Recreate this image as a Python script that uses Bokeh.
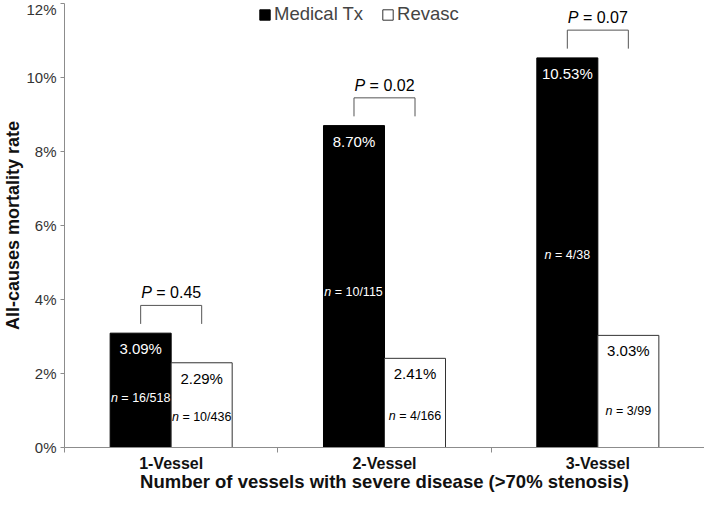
from bokeh.plotting import figure
from bokeh.models import Range1d, FixedTicker, Legend, LegendItem
from bokeh.core.properties import value
from bokeh.embed import file_html
from bokeh.resources import INLINE

# ---------------- data ----------------
categories = ["1-Vessel", "2-Vessel", "3-Vessel"]
medical_rate = [3.09, 8.70, 10.53]
revasc_rate = [2.29, 2.41, 3.03]
medical_n = ["16/518", "10/115", "4/38"]
revasc_n = ["10/436", "4/166", "3/99"]
p_values = ["0.45", "0.02", "0.07"]
y_ticks = [0, 2, 4, 6, 8, 10, 12]
y_tick_labels = ["0%", "2%", "4%", "6%", "8%", "10%", "12%"]

# placement (heights, in axis units) of the n = ... annotations
medical_n_y = [1.33, 4.19, 5.2]
revasc_n_y = [0.83, 0.85, 0.99]

# ---------------- style ----------------
FONT = value("Liberation Sans")
BAR_W = 0.286
AXIS_GREY = "#8c8c8c"

ARIAL = {" ": 278, "=": 584, ".": 278, "/": 278, "%": 889, "P": 667, "n": 556}
for d in "0123456789":
    ARIAL[d] = 556


def text_w(s, size):
    return sum(ARIAL.get(c, 556) for c in s) / 1000.0 * size


p = figure(width=704, height=494, x_range=Range1d(0, 3), y_range=Range1d(0, 12),
           output_backend="svg", toolbar_location=None,
           min_border_top=3, min_border_right=0, min_border_left=0, min_border_bottom=0)
p.outline_line_color = None
p.grid.visible = False
p.background_fill_color = "white"

centers = [i + 0.5 for i in range(len(categories))]
med_x = [c - BAR_W / 2 for c in centers]
rev_x = [c + BAR_W / 2 for c in centers]

r_med = p.vbar(x=med_x, top=medical_rate, width=BAR_W, bottom=0,
               fill_color="black", line_color="black", line_width=1)
r_rev = p.vbar(x=rev_x, top=revasc_rate, width=BAR_W, bottom=0,
               fill_color="white", line_color="#333333", line_width=1)

# value labels
p.text(x=med_x, y=medical_rate, text=["%.2f%%" % v for v in medical_rate],
       text_font=FONT, text_font_size="15px", text_align="center",
       text_baseline="top", y_offset=7, text_color="white")
p.text(x=rev_x, y=revasc_rate, text=["%.2f%%" % v for v in revasc_rate],
       text_font=FONT, text_font_size="15px", text_align="center",
       text_baseline="top", y_offset=7, text_color="black")


def split_label(xs, ys, lead, rests, size, color, baseline="middle", y_off=0):
    """Italic lead letter followed by '= value', centred on x."""
    offs, offs2 = [], []
    for r in rests:
        W = text_w(lead + " " + r, size)
        o = -W / 2 + text_w(lead, size)
        offs.append(o)
        offs2.append(o + text_w(" ", size))
    p.text(x=xs, y=ys, text=[lead] * len(xs), x_offset=offs, y_offset=y_off,
           text_font=FONT, text_font_size="%spx" % size, text_font_style="italic",
           text_align="right", text_baseline=baseline, text_color=color)
    p.text(x=xs, y=ys, text=rests, x_offset=offs2, y_offset=y_off,
           text_font=FONT, text_font_size="%spx" % size,
           text_align="left", text_baseline=baseline, text_color=color)


split_label(med_x, medical_n_y, "n", ["= " + s for s in medical_n], 12.5, "white")
split_label(rev_x, revasc_n_y, "n", ["= " + s for s in revasc_n], 12.5, "black")

# significance brackets
tops = [max(a, b) for a, b in zip(medical_rate, revasc_rate)]
xs_b = [[m, m, r, r] for m, r in zip(med_x, rev_x)]
ys_b = [[t + 0.25, t + 0.75, t + 0.75, t + 0.25] for t in tops]
p.multi_line(xs=xs_b, ys=ys_b, line_color="#555555", line_width=1)

p_ys = [t + 0.75 for t in tops]
split_label(centers, p_ys, "P", ["= " + v for v in p_values], 16, "black",
            baseline="bottom", y_off=-4)

# x axis
xa = p.xaxis[0]
xa.ticker = FixedTicker(ticks=centers, minor_ticks=list(range(len(categories) + 1)))
xa.major_label_overrides = {c: lab for c, lab in zip(centers, categories)}
xa.major_tick_line_color = None
xa.major_tick_out = 0
xa.major_tick_in = 0
xa.minor_tick_out = 5
xa.minor_tick_in = 0
xa.minor_tick_line_color = AXIS_GREY
xa.axis_line_color = AXIS_GREY
xa.major_label_text_font = "Liberation Sans"
xa.major_label_text_font_size = "16px"
xa.major_label_text_font_style = "bold"
xa.major_label_text_color = "#111111"
xa.major_label_standoff = 2
xa.axis_label = "Number of vessels with severe disease (>70% stenosis)"
xa.axis_label_text_font = "Liberation Sans"
xa.axis_label_text_font_size = "18.5px"
xa.axis_label_text_font_style = "bold"
xa.axis_label_text_color = "#111111"
xa.axis_label_standoff = -4

# y axis
ya = p.yaxis[0]
ya.ticker = FixedTicker(ticks=y_ticks, minor_ticks=[])
ya.major_label_overrides = {t: lab for t, lab in zip(y_ticks, y_tick_labels)}
ya.major_tick_out = 4
ya.major_tick_in = 0
ya.major_tick_line_color = AXIS_GREY
ya.minor_tick_line_color = None
ya.axis_line_color = AXIS_GREY
ya.major_label_text_font = "Liberation Sans"
ya.major_label_text_font_size = "15px"
ya.major_label_text_color = "#333333"
ya.major_label_standoff = 4
ya.axis_label = "All-causes mortality rate"
ya.axis_label_text_font = "Liberation Sans"
ya.axis_label_text_font_size = "18px"
ya.axis_label_text_font_style = "bold"
ya.axis_label_text_color = "#111111"
ya.axis_label_standoff = 0

legend = Legend(items=[LegendItem(label="Medical Tx", renderers=[r_med]),
                       LegendItem(label="Revasc", renderers=[r_rev])],
                orientation="horizontal", location=(194, 422),
                border_line_color=None, background_fill_alpha=0,
                padding=0, margin=0, spacing=18, label_standoff=3,
                glyph_width=13, glyph_height=13,
                label_text_font="Liberation Sans", label_text_font_size="18.5px")
p.add_layout(legend)

open("out.html", "w").write(file_html(p, INLINE))
